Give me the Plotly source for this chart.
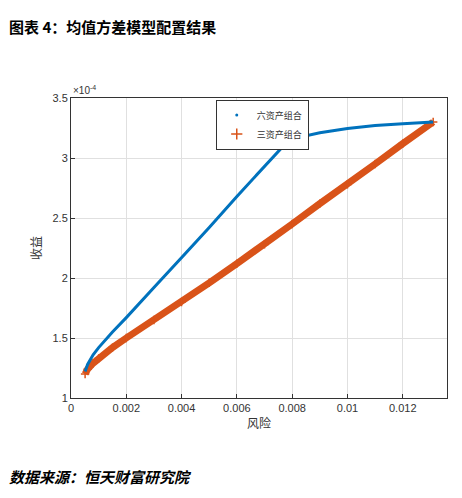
import plotly.graph_objects as go

# six-asset frontier (risk, return in 1e-4)
six_risk = [0.00051, 0.0006, 0.0008, 0.001, 0.0015, 0.002, 0.003, 0.004, 0.005, 0.006,
            0.007, 0.0075, 0.0078, 0.008, 0.009, 0.010, 0.011, 0.012, 0.0131]
six_ret = [1.22, 1.28, 1.36, 1.42, 1.55, 1.67, 1.92, 2.17, 2.42, 2.68,
           2.93, 3.05, 3.13, 3.16, 3.21, 3.245, 3.27, 3.285, 3.30]

# three-asset frontier
three_risk = [0.00051, 0.0006, 0.0008, 0.001, 0.0015, 0.002, 0.003, 0.004, 0.005,
              0.006, 0.007, 0.008, 0.009, 0.010, 0.011, 0.012, 0.0131]
three_ret = [1.20, 1.24, 1.29, 1.33, 1.42, 1.50, 1.65, 1.80, 1.96,
             2.12, 2.28, 2.45, 2.62, 2.78, 2.95, 3.12, 3.30]

x_ticks = [0, 0.002, 0.004, 0.006, 0.008, 0.01, 0.012]
x_labels = ["0", "0.002", "0.004", "0.006", "0.008", "0.01", "0.012"]
y_ticks = [1, 1.5, 2, 2.5, 3, 3.5]
y_labels = ["1", "1.5", "2", "2.5", "3", "3.5"]

BLUE = "#0072BD"
RED = "#D95319"
FONT = "Noto Sans CJK SC"

fig = go.Figure()
fig.add_trace(go.Scatter(x=three_risk, y=three_ret, mode="lines+markers",
                         line=dict(color=RED, width=7), showlegend=False,
                         marker=dict(symbol="cross-thin", size=6, line=dict(color=RED, width=1.5))))
fig.add_trace(go.Scatter(x=six_risk, y=six_ret, mode="lines", showlegend=False,
                         line=dict(color=BLUE, width=3)))
# legend entries
fig.add_trace(go.Scatter(x=[None], y=[None], mode="markers", name="六资产组合",
                         marker=dict(color=BLUE, size=3)))
fig.add_trace(go.Scatter(x=[None], y=[None], mode="markers", name="三资产组合",
                         marker=dict(symbol="cross-thin", size=8, line=dict(color=RED, width=1.5))))

axis_common = dict(showgrid=True, gridcolor="#e0e0e0", showline=True, linecolor="#333",
                   mirror=True, ticks="inside", ticklen=4, tickcolor="#333", zeroline=False,
                   tickfont=dict(size=11, color="#333", family="Liberation Sans"))
fig.update_layout(
    width=462, height=498, paper_bgcolor="white", plot_bgcolor="white",
    margin=dict(l=63, r=23, t=90, b=108),
    xaxis=dict(range=[0, 0.0136], tickvals=x_ticks, ticktext=x_labels,
               title=dict(text="风险", font=dict(size=12, family=FONT, color="#333"), standoff=6),
               **axis_common),
    yaxis=dict(range=[1, 3.5], tickvals=y_ticks, ticktext=y_labels,
               title=dict(text="收益", font=dict(size=12, family=FONT, color="#333"), standoff=8),
               **axis_common),
    legend=dict(x=0.385, y=0.995, xanchor="left", yanchor="top", bgcolor="white",
                bordercolor="#333", borderwidth=1, font=dict(size=9, family=FONT, color="#333"),
                tracegroupgap=0, itemwidth=30),
    showlegend=True,
)
fig.add_annotation(text="×10<sup>-4</sup>", xref="paper", yref="paper", x=0, y=1.0,
                   xanchor="left", yanchor="bottom", showarrow=False,
                   font=dict(size=10, color="#333", family="Liberation Sans"))
fig.add_annotation(text="<b>图表 4：均值方差模型配置结果</b>", xref="paper", yref="paper",
                   x=-0.17, y=1.24, xanchor="left", yanchor="middle", showarrow=False,
                   font=dict(size=15, color="black", family=FONT))
fig.add_annotation(text="<b><i>数据来源：恒天财富研究院</i></b>", xref="paper", yref="paper",
                   x=-0.17, y=-0.26, xanchor="left", yanchor="middle", showarrow=False,
                   font=dict(size=15, color="black", family=FONT))

fig.write_html("out.html")
